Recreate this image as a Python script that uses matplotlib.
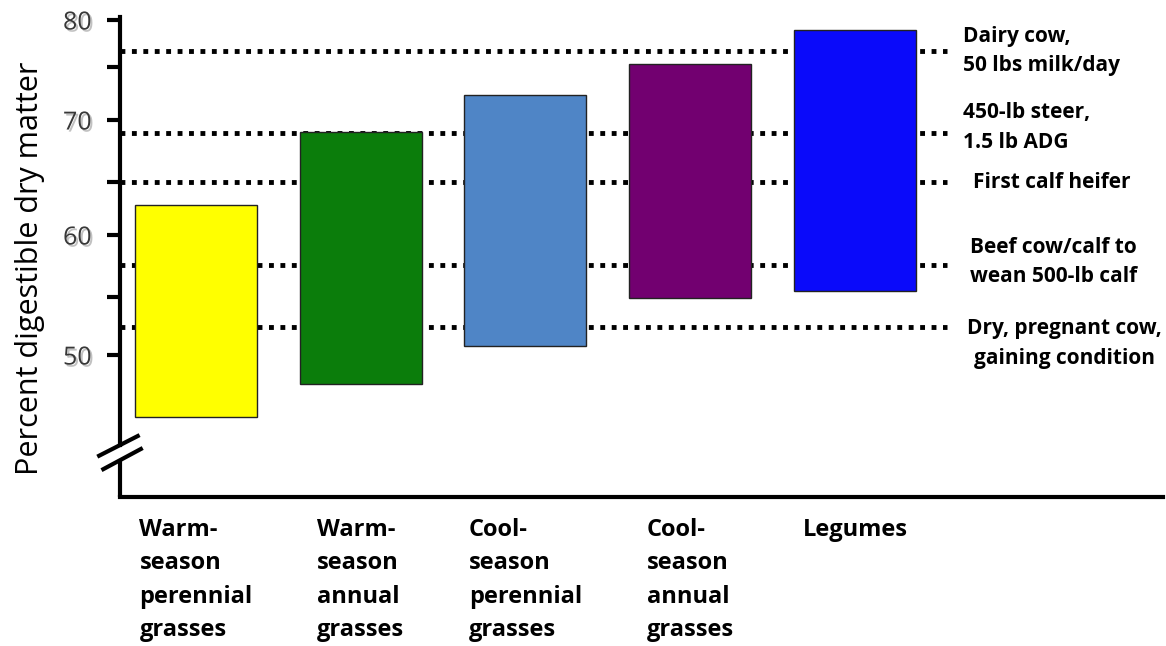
import numpy as np
import matplotlib.pyplot as plt
from matplotlib import patheffects

# forage groups and their digestibility range (% DM)
categories = ['Warm-\nseason\nperennial\ngrasses', 'Warm-\nseason\nannual\ngrasses',
              'Cool-\nseason\nperennial\ngrasses', 'Cool-\nseason\nannual\ngrasses',
              'Legumes']
low = [44.8, 47.6, 50.8, 54.9, 55.5]
high = [62.8, 69.0, 72.4, 75.3, 78.9]
colors = ['#FFFF00', '#0B7D0B', '#4F85C6', '#720070', '#0A0AFA']

# animal requirements (dotted lines)
req_labels = ['Dairy cow,\n50 lbs milk/day', '450-lb steer,\n1.5 lb ADG',
              'First calf heifer', 'Beef cow/calf to\nwean 500-lb calf',
              'Dry, pregnant cow,\ngaining condition']
req_values = [76.7, 68.95, 65.0, 57.6, 52.4]

plt.rcParams['font.family'] = ['Open Sans', 'DejaVu Sans']

# the original axis is hand drawn, tick spacing isn't even -> piecewise scale
knot_vals = np.array([20, 50, 55, 60, 65, 70, 75, 80, 100])
knot_pos = -np.array([715, 355, 297, 235, 182, 120, 67, 20, -168])

def fwd(v):
    return np.interp(v, knot_vals, knot_pos)

def inv(t):
    return np.interp(t, knot_pos, knot_vals)

fig = plt.figure(figsize=(11.66, 6.46), dpi=100)
ax = fig.add_axes([120 / 1166, 1 - 497 / 646, 1043 / 1166, 480 / 646])
ax.set_yscale('function', functions=(fwd, inv))
ax.set_ylim(38.17, 80.32)
ax.set_xlim(-0.461, 5.87)

x = np.arange(len(categories))
ax.hlines(req_values, -0.461, 4.558, colors='black', linewidth=3.5,
          linestyles=(0, (1, 1.35)), zorder=1)
ax.bar(x, np.array(high) - np.array(low), bottom=low, width=0.74, color=colors,
       edgecolor='#222222', linewidth=1, zorder=3)

# spines
for s in ['top', 'right']:
    ax.spines[s].set_visible(False)
ax.spines['left'].set_linewidth(3)
ax.spines['bottom'].set_linewidth(3)
ax.spines['left'].set_bounds(42.5, 80.32)
# lower piece of the left axis + break marks
ax.plot([0, 0], [0, 0.077], transform=ax.transAxes, color='black', lw=3,
        clip_on=False, solid_capstyle='butt')
ax.plot([-0.02, 0.017], [0.086, 0.127], transform=ax.transAxes, color='black',
        lw=3, clip_on=False)
ax.plot([-0.016, 0.02], [0.058, 0.1], transform=ax.transAxes, color='black',
        lw=3, clip_on=False)

ax.set_yticks([50, 60, 70, 80])
ax.set_yticks([55, 65, 75], minor=True)
ax.tick_params(axis='y', which='both', direction='out', length=9.5, width=3,
               pad=11, labelsize=18, labelcolor='#383838')
shadow = [patheffects.SimplePatchShadow(offset=(1.5, -1.5), shadow_rgbFace='#999999',
                                        alpha=0.6), patheffects.Normal()]
for lbl in ax.get_yticklabels():
    lbl.set_path_effects(shadow)

ax.set_xticks(x)
ax.set_xticklabels(categories, fontsize=17, fontweight='bold', linespacing=1.52,
                   multialignment='left', va='top')
ax.tick_params(axis='x', length=0, pad=15)

ax.text(-0.086, 0.477, 'Percent digestible dry matter', transform=ax.transAxes,
        rotation=90, ha='center', va='center', fontsize=22)

label_dx = [16, 16, 26, 23, 118]   # px right of the line end
label_dy = [0, 4, 0, 2, -11.5]     # points
for i, (txt, val) in enumerate(zip(req_labels, req_values)):
    ha = 'center' if i == 4 else 'left'
    ax.annotate(txt, xy=(4.558, val), xycoords='data',
                xytext=(label_dx[i] * 0.72, label_dy[i]), textcoords='offset points',
                ha=ha, va='center', fontsize=15, fontweight='bold',
                linespacing=1.55, multialignment='center' if i == 4 else 'left',
                annotation_clip=False)

fig.savefig('out.png', dpi=100)
